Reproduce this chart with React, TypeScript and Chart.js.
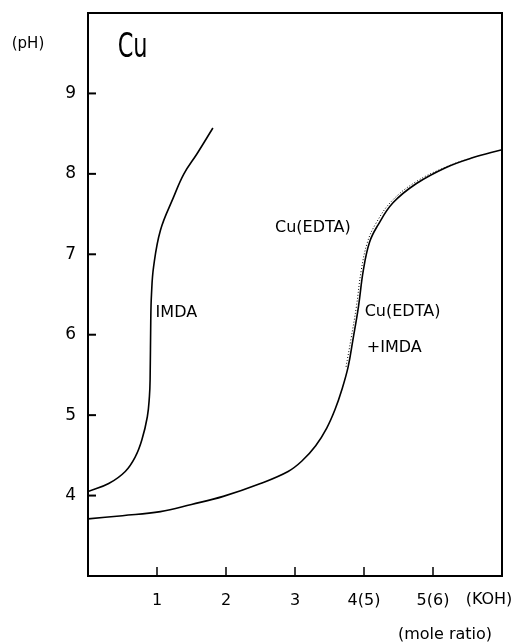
import React, { useEffect, useRef } from "react";
import { Chart, registerables } from "chart.js";

Chart.register(...registerables);

// KOH mole ratio (x) vs pH (y)
const imdaX = [0, 0.3, 0.54, 0.69, 0.78, 0.86, 0.89, 0.9, 0.91, 0.92, 0.95, 1.05, 1.24, 1.39, 1.58, 1.81];
const imdaY = [4.05, 4.15, 4.3, 4.49, 4.69, 4.98, 5.23, 5.44, 6.2, 6.5, 6.84, 7.3, 7.71, 8.0, 8.25, 8.57];

const edtaX = [0, 0.5, 1.05, 1.5, 1.96, 2.5, 2.9, 3.1, 3.3, 3.46, 3.58, 3.68, 3.77, 3.84, 3.92, 3.99, 4.08, 4.2, 4.42, 4.76, 5.19, 5.57, 6.0];
const edtaY = [3.71, 3.75, 3.8, 3.89, 3.99, 4.15, 4.3, 4.43, 4.62, 4.84, 5.07, 5.32, 5.6, 5.94, 6.35, 6.8, 7.15, 7.36, 7.64, 7.88, 8.08, 8.2, 8.3];

const mixX = [3.74, 3.81, 3.89, 3.96, 4.05, 4.17, 4.4, 4.75, 5.2, 5.6];
const mixY = [5.6, 5.94, 6.35, 6.8, 7.15, 7.38, 7.66, 7.9, 8.09, 8.21];

const xTickValues = [1, 2, 3, 4, 5];
const xTickLabels = ["1", "2", "3", "4(5)", "5(6)"];
const yTickValues = [4, 5, 6, 7, 8, 9];

const FONT = "'DejaVu Sans', sans-serif";

const toPts = (xs: number[], ys: number[]) => xs.map((x, i) => ({ x, y: ys[i] }));

const framePlugin = {
  id: "frame",
  afterDraw(chart: any) {
    const { ctx, chartArea: a, scales } = chart;
    const xs = scales.x;
    const ys = scales.y;
    ctx.save();
    ctx.strokeStyle = "#000";
    ctx.lineWidth = 2;
    ctx.beginPath();
    ctx.moveTo(a.left, a.top);
    ctx.lineTo(a.right, a.top);
    ctx.lineTo(a.right, a.bottom);
    ctx.lineTo(a.left, a.bottom);
    ctx.closePath();
    ctx.stroke();
    // inward ticks
    ctx.lineWidth = 2;
    yTickValues.forEach((v) => {
      const y = ys.getPixelForValue(v);
      ctx.beginPath();
      ctx.moveTo(a.left, y);
      ctx.lineTo(a.left + 8, y);
      ctx.stroke();
    });
    ctx.lineWidth = 1.5;
    xTickValues.forEach((v) => {
      const x = xs.getPixelForValue(v);
      ctx.beginPath();
      ctx.moveTo(x, a.bottom);
      ctx.lineTo(x, a.bottom - 9);
      ctx.stroke();
    });

    ctx.fillStyle = "#000";
    const text = (t: string, x: number, y: number, size: number, sx = 1, align: CanvasTextAlign = "left", base: CanvasTextBaseline = "middle") => {
      ctx.save();
      ctx.font = `${size}px ${FONT}`;
      ctx.textAlign = align;
      ctx.textBaseline = base;
      ctx.translate(x, y);
      ctx.scale(sx, 1);
      ctx.fillText(t, 0, 0);
      ctx.restore();
    };
    text("Cu", xs.getPixelForValue(0.43), ys.getPixelForValue(9.45), 34, 0.66, "left", "alphabetic");
    text("IMDA", xs.getPixelForValue(0.98), ys.getPixelForValue(6.27), 16);
    text("Cu(EDTA)", xs.getPixelForValue(2.71), ys.getPixelForValue(7.33), 16);
    text("Cu(EDTA)", xs.getPixelForValue(4.01), ys.getPixelForValue(6.28), 16);
    text("+IMDA", xs.getPixelForValue(4.04), ys.getPixelForValue(5.84), 16);
    text("(pH)", 28, 44, 15, 1, "center");
    text("(KOH)", 489, 600, 16, 1, "center");
    text("(mole ratio)", 445, 635, 16, 1, "center");
    ctx.restore();
  },
};

export default function App() {
  const ref = useRef<HTMLCanvasElement | null>(null);
  useEffect(() => {
    document.body.style.margin = "0";
    const canvas = ref.current!;
    const chart = new Chart(canvas, {
      type: "scatter",
      data: {
        datasets: [
          {
            data: toPts(imdaX, imdaY),
            showLine: true,
            borderColor: "#000",
            borderWidth: 1.6,
            pointRadius: 0,
            tension: 0.4,
          },
          {
            data: toPts(edtaX, edtaY),
            showLine: true,
            borderColor: "#000",
            borderWidth: 1.6,
            pointRadius: 0,
            tension: 0.4,
          },
          {
            data: toPts(mixX, mixY),
            showLine: true,
            borderColor: "#000",
            borderWidth: 1,
            borderDash: [1, 2],
            pointRadius: 0,
            tension: 0.4,
          },
        ],
      },
      options: {
        animation: false,
        responsive: false,
        maintainAspectRatio: false,
        layout: { padding: { left: 0, top: 13, right: 17, bottom: 0 } },
        plugins: { legend: { display: false }, tooltip: { enabled: false } },
        scales: {
          x: {
            type: "linear",
            min: 0,
            max: 6,
            grid: { display: false, drawTicks: false },
            border: { display: false },
            afterBuildTicks: (s: any) => {
              s.ticks = xTickValues.map((v) => ({ value: v }));
            },
            afterFit: (s: any) => {
              s.height = 67;
              s.paddingLeft = 0;
              s.paddingRight = 0;
            },
            ticks: {
              padding: 15,
              color: "#000",
              font: { family: FONT, size: 16 },
              maxRotation: 0,
              callback: (v: any) => {
                const i = xTickValues.indexOf(Number(v));
                return i >= 0 ? xTickLabels[i] : "";
              },
            },
          },
          y: {
            type: "linear",
            min: 3,
            max: 10,
            grid: { display: false, drawTicks: false },
            border: { display: false },
            afterBuildTicks: (s: any) => {
              s.ticks = yTickValues.map((v) => ({ value: v }));
            },
            afterFit: (s: any) => {
              s.width = 88;
              s.paddingTop = 0;
              s.paddingBottom = 0;
            },
            ticks: {
              padding: 12,
              color: "#000",
              font: { family: FONT, size: 17 },
            },
          },
        },
      },
      plugins: [framePlugin],
    });
    return () => chart.destroy();
  }, []);
  return (
    <div style={{ position: "absolute", left: 0, top: 0, width: 519, height: 643, background: "#fff" }}>
      <canvas ref={ref} width={519} height={643} style={{ display: "block", width: 519, height: 643 }} />
    </div>
  );
}
